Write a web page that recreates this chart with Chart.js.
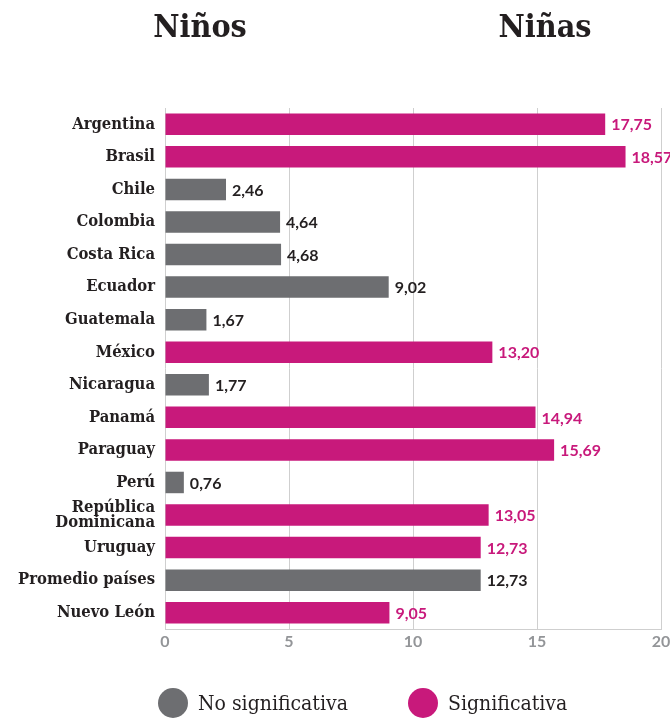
<!DOCTYPE html>
<html>
<head>
<meta charset="utf-8">
<script src="https://cdn.jsdelivr.net/npm/chart.js@4"></script>
<style>
  html, body { margin: 0; padding: 0; background: #fff; }
  #wrap { position: relative; width: 670px; height: 718px; }
  canvas { position: absolute; left: 0; top: 0; }
  .title { position: absolute; top: 7px; font: bold 32px "DejaVu Serif Condensed", "DejaVu Serif", serif; color: #231f20; transform: translateX(-50%); }
  .leg { position: absolute; top: 688px; display: flex; align-items: center; font: 21px "DejaVu Serif Condensed", "DejaVu Serif", serif; color: #231f20; }
  .dot { width: 30px; height: 30px; border-radius: 50%; margin-right: 10px; }
</style>
</head>
<body>
<div id="wrap">
  <canvas id="chart" width="670" height="718"></canvas>
  <div class="title" style="left:200px">Niños</div>
  <div class="title" style="left:545px">Niñas</div>
  <div class="leg" style="left:158px"><span class="dot" style="background:#6d6e71"></span>No significativa</div>
  <div class="leg" style="left:408px"><span class="dot" style="background:#c8197b"></span>Significativa</div>
</div>
<script>
const countries = ['Argentina', 'Brasil', 'Chile', 'Colombia', 'Costa Rica', 'Ecuador', 'Guatemala',
  'México', 'Nicaragua', 'Panamá', 'Paraguay', 'Perú', ['República', 'Dominicana'], 'Uruguay',
  'Promedio países', 'Nuevo León'];
const values = [17.75, 18.57, 2.46, 4.64, 4.68, 9.02, 1.67, 13.20, 1.77, 14.94, 15.69, 0.76, 13.05, 12.73, 12.73, 9.05];
const significant = [true, true, false, false, false, false, false, true, false, true, true, false, true, true, false, true];
const xTicks = [0, 5, 10, 15, 20];

const GRAY = '#6d6e71';
const PINK = '#c8197b';

const valueLabels = {
  id: 'valueLabels',
  afterDatasetsDraw(chart) {
    const ctx = chart.ctx;
    const meta = chart.getDatasetMeta(0);
    ctx.save();
    ctx.font = 'bold 16px Lato';
    ctx.textBaseline = 'middle';
    meta.data.forEach((bar, i) => {
      ctx.fillStyle = significant[i] ? PINK : '#231f20';
      const txt = values[i].toFixed(2).replace('.', ',');
      ctx.fillText(txt, bar.x + 6, bar.y + 1);
    });
    ctx.restore();
  }
};

new Chart(document.getElementById('chart'), {
  type: 'bar',
  data: {
    labels: countries,
    datasets: [{
      data: values,
      backgroundColor: significant.map(s => s ? PINK : GRAY),
      barPercentage: 0.66,
      categoryPercentage: 1
    }]
  },
  options: {
    indexAxis: 'y',
    responsive: false,
    animation: false,
    layout: { padding: { top: 108, right: 0, left: 0, bottom: 0 } },
    plugins: { legend: { display: false }, tooltip: { enabled: false } },
    scales: {
      x: {
        min: 0, max: 20,
        afterBuildTicks: s => { s.ticks = xTicks.map(v => ({ value: v })); },
        afterFit: s => { s.height = 89; s.paddingRight = 9; s.paddingLeft = 0; },
        grid: { color: '#cfcfcf', drawTicks: false },
        border: { color: '#cfcfcf' },
        ticks: { padding: 3, color: '#939598', font: { family: 'Lato', weight: 'bold', size: 16 } }
      },
      y: {
        afterFit: s => { s.width = 165; },
        grid: { display: false, drawTicks: false },
        border: { display: false },
        ticks: {
          autoSkip: false,
          padding: 10, color: '#231f20',
          font: { family: '"DejaVu Serif Condensed", "DejaVu Serif"', weight: 'bold', size: 16.5, lineHeight: 0.9 }
        }
      }
    }
  },
  plugins: [valueLabels]
});
</script>
</body>
</html>
